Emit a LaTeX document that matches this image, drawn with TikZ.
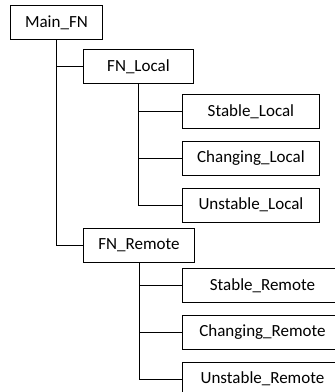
\documentclass[tikz,border=0pt]{standalone}
\usepackage{fontspec}
\setmainfont{Carlito}
\usetikzlibrary{positioning}
\tikzset{
  fnbox/.style={draw, line width=0.9pt, fill=white, anchor=north west, minimum width=#1, minimum height=34pt, inner sep=0pt, font=\fontsize{17pt}{20pt}\selectfont},
  fnbox/.default=110pt,
  ramo/.style={line width=0.9pt},
}

\begin{document}
\begin{tikzpicture}[x=1pt, y=-1pt, node distance=12pt]
  \useasboundingbox (0,0) rectangle (335,392);
  \clip (0,0) rectangle (335,392);

  \node[fnbox=92pt] (main) at (10,5) {Main\_FN};

  % local side
  \node[fnbox, below right=9pt and 73pt of main.south west] (fnl) {FN\_Local};
  \node[fnbox=137pt, below right=10pt and 99pt of fnl.south west] (sl) {Stable\_Local};
  \node[fnbox=137pt, below=of sl] (cl) {Changing\_Local};
  \node[fnbox=137pt, below=of cl] (ul) {Unstable\_Local};

  % remote side
  \node[fnbox=111pt] (fnr) at (83,228) {FN\_Remote};
  \node[fnbox=160pt, below right=5pt and 99pt of fnr.south west] (sr) {Stable\_Remote};
  \node[fnbox=160pt, below=of sr] (cr) {Changing\_Remote};
  \node[fnbox=160pt, below=of cr] (ur) {Unstable\_Remote};

  \draw[ramo] (main.south) |- (fnl.west);
  \draw[ramo] (main.south) |- (fnr.west);
  \foreach \k in {sl,cl,ul}
    \draw[ramo] (fnl.south) |- (\k.west);
  \foreach \k in {sr,cr,ur}
    \draw[ramo] (fnr.south) |- (\k.west);
\end{tikzpicture}
\end{document}
